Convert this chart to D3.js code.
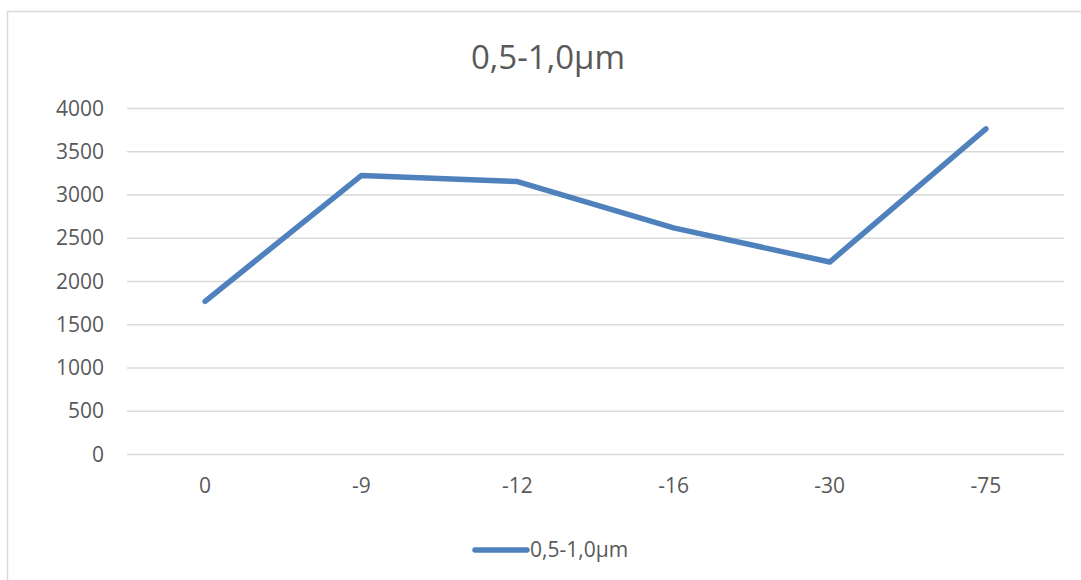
<!DOCTYPE html>
<html>
<head>
<meta charset="utf-8">
<script src="https://cdn.jsdelivr.net/npm/d3@7"></script>
<style>
  html, body { margin: 0; padding: 0; background: #fff; }
  svg { display: block; font-family: "Open Sans", sans-serif; }
</style>
</head>
<body>
<div id="chart"></div>
<script>
// Daten
const categories = ['0', '-9', '-12', '-16', '-30', '-75'];
const values = [1770, 3225, 3155, 2620, 2225, 3765];
const yTicks = [0, 500, 1000, 1500, 2000, 2500, 3000, 3500, 4000];
const seriesName = '0,5-1,0µm';
const chartTitle = '0,5-1,0µm';

const W = 1081, H = 580;
const m = { left: 127, right: 17, top: 108.5, bottom: 125.5 };
const TXT = '#595959', GRID = '#d9d9d9', LINE = '#4f81bd';
const FS = '21px';

const svg = d3.select('#chart').append('svg')
  .attr('width', W).attr('height', H);

// Rahmen (rechts/unten ausserhalb des Bildes)
svg.append('rect')
  .attr('x', 7.5).attr('y', 11.5)
  .attr('width', W + 10).attr('height', H + 10)
  .attr('fill', '#fff').attr('stroke', GRID).attr('stroke-width', 1.5);

const x = d3.scaleBand().domain(categories).range([m.left, W - m.right]);
const y = d3.scaleLinear().domain([0, 4000]).range([H - m.bottom, m.top]);

// Gitterlinien
svg.append('g').selectAll('line').data(yTicks).join('line')
  .attr('x1', m.left).attr('x2', W - m.right)
  .attr('y1', d => y(d)).attr('y2', d => y(d))
  .attr('stroke', GRID).attr('stroke-width', 1.5);

// Y-Achse
const yAxis = svg.append('g')
  .attr('transform', `translate(${m.left - 23},0)`)
  .call(d3.axisLeft(y).tickValues(yTicks).tickFormat(d3.format('d')).tickSize(0).tickPadding(0));
yAxis.select('.domain').remove();
yAxis.selectAll('text').attr('fill', TXT).style('font-size', FS)
  .style('font-family', '"Open Sans", sans-serif');

// X-Achse
const xAxis = svg.append('g')
  .attr('transform', `translate(0,${y(0) + 24})`)
  .call(d3.axisBottom(x).tickSize(0).tickPadding(0));
xAxis.select('.domain').remove();
xAxis.selectAll('text').attr('fill', TXT).style('font-size', FS)
  .style('font-family', '"Open Sans", sans-serif');

// Linie
const line = d3.line()
  .x((d, i) => x(categories[i]) + x.bandwidth() / 2)
  .y(d => y(d));

svg.append('path').datum(values)
  .attr('d', line)
  .attr('fill', 'none').attr('stroke', LINE)
  .attr('stroke-width', 5.5).attr('stroke-linecap', 'round')
  .attr('stroke-linejoin', 'round');

// Titel
svg.append('text')
  .attr('x', 548).attr('y', 57).attr('dy', '0.35em')
  .attr('text-anchor', 'middle').attr('fill', TXT)
  .style('font-size', '33px')
  .text(chartTitle);

// Legende
svg.append('line')
  .attr('x1', 475).attr('x2', 527).attr('y1', 550).attr('y2', 550)
  .attr('stroke', LINE).attr('stroke-width', 5.5).attr('stroke-linecap', 'round');
svg.append('text')
  .attr('x', 530).attr('y', 550).attr('dy', '0.35em')
  .attr('fill', TXT).style('font-size', FS)
  .text(seriesName);
</script>
</body>
</html>
